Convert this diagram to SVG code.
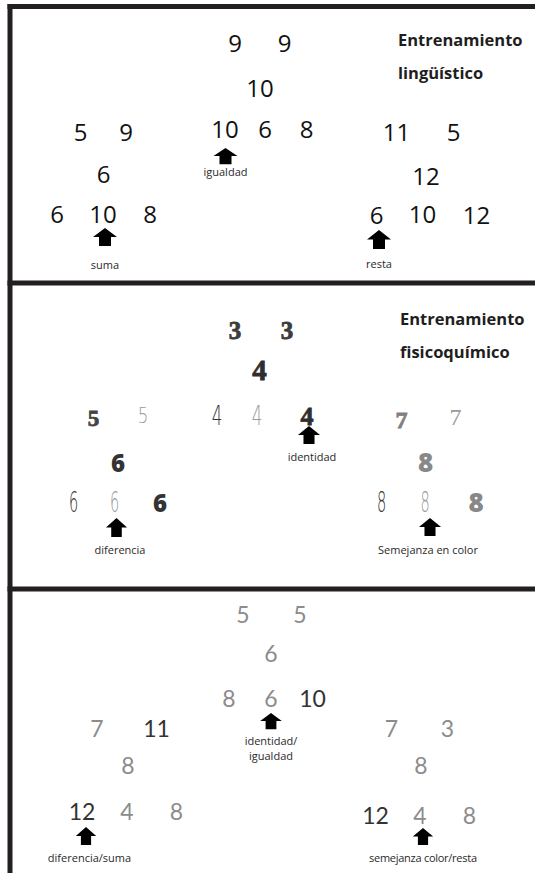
<svg xmlns="http://www.w3.org/2000/svg" width="535" height="873" viewBox="0 0 535 873">
<style>
.frame{stroke:#231f20;stroke-width:5;fill:none}
.n{font-family:"Open Sans","Liberation Sans",sans-serif;font-size:24px;fill:#111;text-anchor:middle}
.lab{font-family:"Open Sans","Liberation Sans",sans-serif;font-size:11px;fill:#2a2a2a;text-anchor:middle}
.head{font-family:"Open Sans","Liberation Sans",sans-serif;font-size:16.5px;font-weight:bold;fill:#1e1e1e}
.fat{font-family:"Liberation Serif","DejaVu Serif",serif;font-weight:bold;text-anchor:middle;stroke-width:0.8}
.thin{font-family:"DejaVu Sans","Open Sans",sans-serif;font-weight:200;text-anchor:middle}
.heavy{font-family:"Open Sans","Liberation Sans",sans-serif;font-weight:800;text-anchor:middle}
.b{font-family:"Lato","Open Sans",sans-serif;font-size:23px;text-anchor:middle}
.g{fill:#8c8c8c}
.d{fill:#333}
.arr{fill:#000}
</style>
<defs>
<path id="arrow" d="M0,0 L12,9 L6,9 L6,18 L-6,18 L-6,9 L-12,9 Z"/>
</defs>
<rect width="535" height="873" fill="#fff"/>
<g id="frames">
<path class="frame" d="M10,4 V873"/>
<path class="frame" d="M7.5,6.5 H535"/>
<path class="frame" d="M7.5,283 H535"/>
<path class="frame" d="M7.5,589 H535"/>
</g>
<g id="connectors" class="arr">
<use href="#arrow" transform="translate(225.5,148) scale(1,0.9)"/>
<use href="#arrow" transform="translate(105,228)"/>
<use href="#arrow" transform="translate(379,230) scale(1,1.05)"/>
<use href="#arrow" transform="translate(309,426) scale(0.92,1)"/>
<use href="#arrow" transform="translate(116.5,518) scale(0.88,1.05)"/>
<use href="#arrow" transform="translate(430,518) scale(0.92,1)"/>
<use href="#arrow" transform="translate(271,713) scale(0.9,0.9)"/>
<use href="#arrow" transform="translate(86,827) scale(0.85,1)"/>
<use href="#arrow" transform="translate(423,828) scale(0.85,0.95)"/>
</g>
<g id="panel-linguistico">
<g id="t-head"><text class="head" x="398" y="46">Entrenamiento</text><text class="head" x="398" y="79">lingüístico</text></g>
<g id="t-mid">
<text class="n" x="235" y="52">9</text><text class="n" x="284.5" y="52">9</text>
<text class="n" x="260" y="97">10</text>
<text class="n" x="225" y="138">10</text><text class="n" x="265" y="138">6</text><text class="n" x="306.5" y="138">8</text>
<text class="lab" x="225.5" y="176">igualdad</text>
</g>
<g id="t-left">
<text class="n" x="80.5" y="141">5</text><text class="n" x="126" y="141">9</text>
<text class="n" x="103.5" y="183">6</text>
<text class="n" x="57" y="223">6</text><text class="n" x="103" y="223">10</text><text class="n" x="150" y="223">8</text>
<text class="lab" x="105" y="269">suma</text>
</g>
<g id="t-right">
<text class="n" x="396.5" y="141">11</text><text class="n" x="453.5" y="141">5</text>
<text class="n" x="426" y="185">12</text>
<text class="n" x="376.5" y="224">6</text><text class="n" x="422.5" y="223">10</text><text class="n" x="476.5" y="224">12</text>
<text class="lab" x="379" y="268">resta</text>
</g>
</g>
<g id="panel-fisicoquimico">
<g id="m-head"><text class="head" x="400" y="325">Entrenamiento</text><text class="head" x="400" y="358">fisicoquímico</text></g>
<g id="m-mid">
<text class="fat" x="235" y="339" font-size="25" fill="#3c3c3c" stroke="#3c3c3c">3</text>
<text class="fat" x="287" y="339" font-size="25" fill="#3c3c3c" stroke="#3c3c3c">3</text>
<text class="fat" x="259.5" y="380" font-size="29" fill="#2e2e2e" stroke="#2e2e2e">4</text>
<text class="thin" transform="translate(217,425) scale(0.62,1)" font-size="27" fill="#333">4</text>
<text class="thin" transform="translate(257,425) scale(0.62,1)" font-size="27" fill="#999">4</text>
<text class="fat" x="307" y="425" font-size="26" fill="#2e2e2e" stroke="#2e2e2e">4</text>
<text class="lab" x="312" y="461">identidad</text>
</g>
<g id="m-left">
<text class="fat" x="93.5" y="426" font-size="23" fill="#444" stroke="#444">5</text>
<text class="thin" transform="translate(143,423) scale(0.8,1)" font-size="21" fill="#9a9a9a">5</text>
<text class="heavy" x="118" y="472" font-size="24" fill="#333">6</text>
<text class="thin" transform="translate(73.5,512) scale(0.5,1)" font-size="29" fill="#333">6</text>
<text class="thin" transform="translate(114.5,512) scale(0.5,1)" font-size="29" fill="#999">6</text>
<text class="heavy" x="160" y="512" font-size="24" fill="#333">6</text>
<text class="lab" x="120" y="554">diferencia</text>
</g>
<g id="m-right">
<text class="fat" x="401.5" y="428" font-size="24" fill="#808080" stroke="#808080">7</text>
<text font-family="Liberation Serif,serif" text-anchor="middle" x="455.5" y="425" font-size="24" fill="#9a9a9a">7</text>
<text class="heavy" x="425.5" y="472" font-size="26" fill="#888">8</text>
<text class="thin" transform="translate(381.5,512) scale(0.5,1)" font-size="29" fill="#333">8</text>
<text class="thin" transform="translate(425,512) scale(0.5,1)" font-size="29" fill="#999">8</text>
<text class="heavy" x="476" y="512" font-size="26" fill="#888">8</text>
<text class="lab" x="428" y="554">Semejanza en color</text>
</g>
</g>
<g id="panel-combinado">
<g id="b-mid">
<text class="b g" x="243" y="623">5</text><text class="b g" x="300" y="623">5</text>
<text class="b g" x="271" y="662">6</text>
<text class="b g" x="229" y="707">8</text><text class="b g" x="271" y="707">6</text><text class="b d" x="312.5" y="707">10</text>
<text class="lab" x="271" y="745">identidad/</text>
<text class="lab" x="271" y="760">igualdad</text>
</g>
<g id="b-left">
<text class="b g" x="97" y="737">7</text><text class="b d" x="156.5" y="737">11</text>
<text class="b g" x="128" y="774">8</text>
<text class="b d" x="82" y="820">12</text><text class="b g" x="127" y="820">4</text><text class="b g" x="176.5" y="820">8</text>
<text class="lab" x="89.5" y="862">diferencia/suma</text>
</g>
<g id="b-right">
<text class="b g" x="391.5" y="737">7</text><text class="b g" x="447.5" y="737">3</text>
<text class="b g" x="421" y="774">8</text>
<text class="b d" x="375.5" y="824">12</text><text class="b g" x="420" y="824">4</text><text class="b g" x="469.5" y="824">8</text>
<text class="lab" x="423" y="862" textLength="108">semejanza color/resta</text>
</g>
</g>
</svg>
